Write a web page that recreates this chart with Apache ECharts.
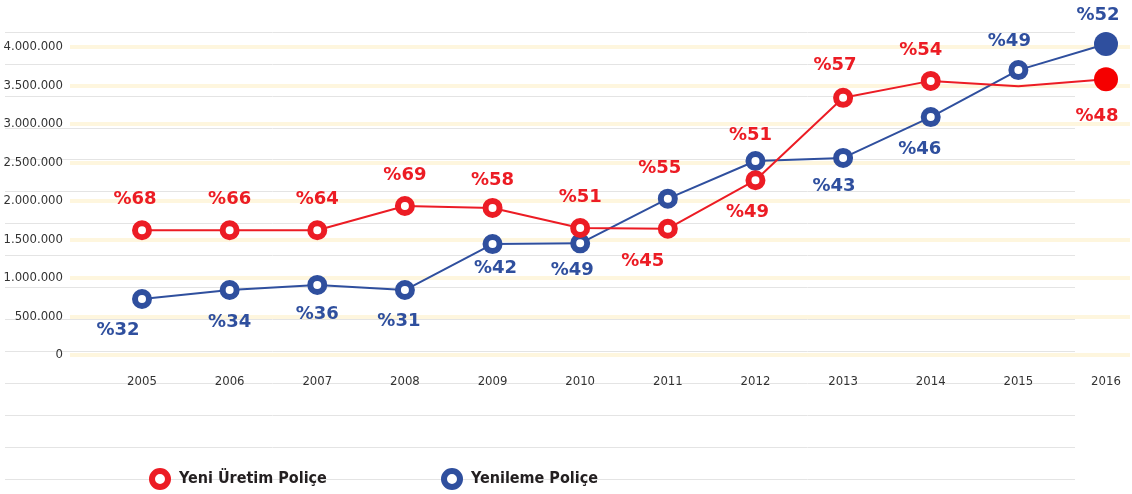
<!DOCTYPE html>
<html>
<head>
<meta charset="utf-8">
<script src="https://cdn.jsdelivr.net/npm/echarts@6/dist/echarts.min.js"></script>
<style>
  html, body { margin: 0; padding: 0; background: #fff; }
  #chart { width: 1132px; height: 494px; }
</style>
</head>
<body>
<div id="chart"></div>
<script>
// veriler
var years = ["2005", "2006", "2007", "2008", "2009", "2010", "2011", "2012", "2013", "2014", "2015", "2016"];
var yeniUretim = [1620000, 1620000, 1620000, 1935000, 1910000, 1650000, 1640000, 2270000, 3340000, 3560000, 3490000, 3580000];
var yenileme = [727000, 844000, 910000, 844000, 1440000, 1450000, 2030000, 2520000, 2560000, 3090000, 3700000, 4040000];
var yeniUretimPct = [68, 66, 64, 69, 58, 51, 45, 49, 57, 54, 51, 48];
var yenilemePct = [32, 34, 36, 31, 42, 49, 55, 51, 43, 46, 49, 52];
var yTicks = { min: 0, max: 4000000, step: 500000 };

// etiket yerleşimi (nokta merkezine göre kaydırma)
var redOffsets = [[-7, -31], [0, -31], [0, -31], [0, -31], [0, -28], [0, -31], [-25, 33], [-8, 32], [-8, -32], [-10, -31], [-6, 29], [-9, 37]];
var blueOffsets = [[-24, 31], [0, 32], [0, 29], [-6, 31], [3, 24], [-8, 27], [-8, -30], [-5, -26], [-9, 28], [-11, 32], [-9, -29], [-8, -29]];
var blueLabelRed = [6, 7]; // bu iki etiket resimde kırmızı

var RED = "#ec1c24";
var BLUE = "#2f4f9e";
var narrow = "'Liberation Sans Narrow', 'DejaVu Sans Condensed', sans-serif";

function fmt(v) {
  return String(v).replace(/\B(?=(\d{3})+(?!\d))/g, ".");
}

function buildData(values, pcts, offsets, color, lastColor, skipIdx) {
  return values.map(function (v, i) {
    var item = {
      value: v,
      label: {
        show: true,
        position: "inside",
        offset: offsets[i],
        formatter: "%" + pcts[i],
        color: color
      }
    };
    if (i === values.length - 1) {
      item.symbol = "circle";
      item.symbolSize = 24;
      item.itemStyle = { color: lastColor, borderWidth: 0 };
    }
    if (skipIdx.indexOf(i) >= 0) item.symbol = "none";
    return item;
  });
}

var redData = buildData(yeniUretim, yeniUretimPct, redOffsets, RED, "#f50000", [10]);
var blueData = buildData(yenileme, yenilemePct, blueOffsets, BLUE, "#2f4f9e", []);
blueLabelRed.forEach(function (i) { blueData[i].label.color = RED; });

var myChart = echarts.init(document.getElementById("chart"));
var labelFont = { fontFamily: "'DejaVu Sans', sans-serif", fontWeight: "bold", fontSize: 18 };

var option = {
  animation: false,
  grid: [
    { left: 142, right: 26, top: 47, height: 308, outerBoundsMode: "none" },
    { left: 5, right: 57, top: 32, height: 447, outerBoundsMode: "none" },   // gri çizgiler
    { left: 70, right: 2, top: 47, height: 308, outerBoundsMode: "none" }    // sarı fırça çizgileri
  ],
  xAxis: [
    {
      gridIndex: 0,
      type: "category",
      data: years,
      boundaryGap: false,
      axisLine: { show: false },
      axisTick: { show: false },
      axisLabel: { margin: 20, fontFamily: narrow, fontSize: 13, color: "#333" }
    },
    { gridIndex: 1, type: "value", min: 0, max: 1, show: false },
    { gridIndex: 2, type: "value", min: 0, max: 1, show: false }
  ],
  yAxis: [
    {
      gridIndex: 0,
      type: "value",
      min: yTicks.min,
      max: yTicks.max,
      interval: yTicks.step,
      axisLine: { show: false },
      axisTick: { show: false },
      splitLine: { show: false },
      axisLabel: { margin: 79, fontFamily: narrow, fontSize: 13, color: "#333", formatter: fmt }
    },
    {
      gridIndex: 1,
      type: "value",
      min: 0,
      max: 14,
      interval: 1,
      axisLine: { show: false },
      axisTick: { show: false },
      axisLabel: { show: false },
      splitLine: { show: true, lineStyle: { color: "#e4e4e4", width: 1 } }
    },
    {
      gridIndex: 2,
      type: "value",
      min: yTicks.min,
      max: yTicks.max,
      interval: yTicks.step,
      axisLine: { show: false },
      axisTick: { show: false },
      axisLabel: { show: false },
      splitLine: { show: true, lineStyle: { color: "rgba(253,240,200,0.6)", width: 4 } }
    }
  ],
  legend: [
    {
      data: ["Yeni Üretim Poliçe"],
      left: 144,
      top: 463,
      icon: "circle",
      itemWidth: 16,
      itemHeight: 16,
      itemStyle: { color: "#fff", borderColor: RED, borderWidth: 6 },
      textStyle: { fontFamily: narrow, fontWeight: "bold", fontSize: 16, color: "#231f20", padding: [0, 0, 0, 6] }
    },
    {
      data: ["Yenileme Poliçe"],
      left: 436,
      top: 463,
      icon: "circle",
      itemWidth: 16,
      itemHeight: 16,
      itemStyle: { color: "#fff", borderColor: BLUE, borderWidth: 6 },
      textStyle: { fontFamily: narrow, fontWeight: "bold", fontSize: 16, color: "#231f20", padding: [0, 0, 0, 6] }
    }
  ],
  series: [
    {
      name: "Yenileme Poliçe",
      type: "line",
      data: blueData,
      clip: false,
      color: BLUE,
      symbol: "circle",
      symbolSize: 14,
      itemStyle: { color: "#fff", borderColor: BLUE, borderWidth: 6 },
      lineStyle: { color: BLUE, width: 2 },
      label: labelFont
    },
    {
      name: "Yeni Üretim Poliçe",
      type: "line",
      data: redData,
      clip: false,
      color: RED,
      symbol: "circle",
      symbolSize: 14,
      itemStyle: { color: "#fff", borderColor: RED, borderWidth: 6 },
      lineStyle: { color: RED, width: 2 },
      label: labelFont
    }
  ]
};

myChart.setOption(option);
</script>
</body>
</html>
